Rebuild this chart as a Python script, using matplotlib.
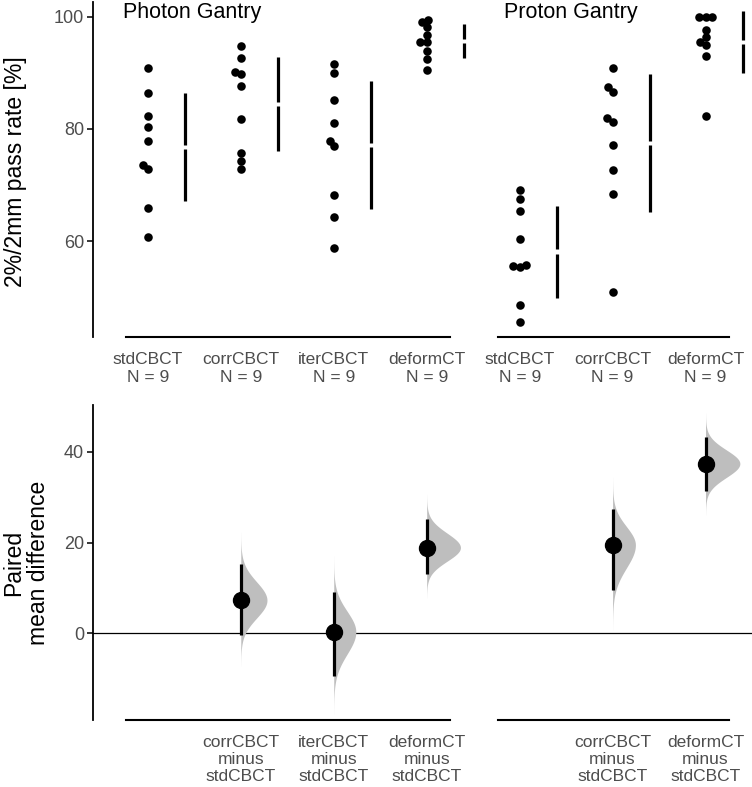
import numpy as np
import matplotlib
matplotlib.use("Agg")
import matplotlib.pyplot as plt

plt.rcParams["font.family"] = ["Liberation Sans", "DejaVu Sans"]

# ---- data ----
groups = ["Photon Gantry", "Proton Gantry"]
photon_labels = ["stdCBCT", "corrCBCT", "iterCBCT", "deformCT"]
proton_labels = ["stdCBCT", "corrCBCT", "deformCT"]

photon_std = [90.9, 86.3, 82.3, 80.3, 77.9, 73.5, 72.8, 65.9, 60.7]
photon_corr = [94.8, 92.6, 90.1, 89.8, 87.6, 81.8, 75.7, 74.3, 72.8]
photon_iter = [91.6, 89.9, 85.2, 81.1, 77.9, 77.0, 68.2, 64.2, 58.7]
photon_deform = [99.4, 99.0, 98.2, 96.7, 95.4, 95.4, 93.9, 92.5, 90.4]
proton_std = [69.1, 67.5, 65.3, 60.3, 55.7, 55.5, 55.3, 48.6, 45.6]
proton_corr = [90.9, 87.5, 86.6, 82.0, 81.3, 77.2, 72.7, 68.3, 50.9]
proton_deform = [100.0, 100.0, 100.0, 97.6, 96.3, 95.5, 94.9, 93.0, 82.2]

delta_labels = ["corrCBCT\nminus\nstdCBCT", "iterCBCT\nminus\nstdCBCT",
                "deformCT\nminus\nstdCBCT", "corrCBCT\nminus\nstdCBCT",
                "deformCT\nminus\nstdCBCT"]
delta_pos = [1, 2, 3, 5, 6]
delta_est = [7.3, 0.35, 18.9, 19.5, 37.4]
delta_lo = [-0.4, -9.3, 13.0, 9.5, 31.4]
delta_hi = [15.2, 9.2, 25.1, 27.4, 43.3]

samples = [photon_std, photon_corr, photon_iter, photon_deform,
           proton_std, proton_corr, proton_deform]
raw_labels = [f"{c}\nN = {len(s)}" for c, s in
              zip(photon_labels + proton_labels, samples)]
group_spans = [(0, 3), (4, 6)]

GREY_TXT = "#4D4D4D"
VIOLIN = "#BEBEBE"


def swarm(values, px_x, px_y, diam):
    vals = np.asarray(values, float)
    offs = np.zeros(len(vals))
    placed = []
    for i in np.argsort(vals):
        y = vals[i] * px_y
        cands = [0.0]
        for xj, yj in placed:
            dy = abs(y - yj)
            if dy < diam:
                dx = np.sqrt(diam ** 2 - dy ** 2)
                cands += [xj - dx, xj + dx]
        for c in sorted(cands, key=abs):
            if all((c - xj) ** 2 + (y - yj) ** 2 >= diam ** 2 - 1e-6
                   for xj, yj in placed):
                break
        placed.append((c, y))
        offs[i] = c / px_x
    return offs


fig = plt.figure(figsize=(7.52, 7.87), dpi=100)
W, H = 752, 787
ax1 = fig.add_axes([93 / W, (H - 337) / H, (W - 93) / W, 335 / H])
ax2 = fig.add_axes([93 / W, (H - 720) / H, (W - 93) / W, 315 / H])

xlim = (-0.59, 6.5)
for ax in (ax1, ax2):
    ax.set_xlim(*xlim)
    for s in ("top", "right", "bottom"):
        ax.spines[s].set_visible(False)
    ax.spines["left"].set_linewidth(1.3)
    ax.tick_params(axis="y", length=4.5, width=1.1, labelsize=13,
                   labelcolor=GREY_TXT, pad=2)
    ax.tick_params(axis="x", length=0, labelsize=12.5,
                   labelcolor=GREY_TXT, pad=11)

# ---- top: raw data swarm ----
ax1.set_ylim(42.9, 102.6)
ax1.set_yticks([60, 80, 100])
px_x = 93.0
px_y = 5.61
for i, s in enumerate(samples):
    off = swarm(s, px_x, px_y, 6.5)
    ax1.scatter(i + off, s, s=38, color="black", linewidths=0, zorder=3)
    m, sd = np.mean(s), np.std(s, ddof=1)
    gap = 0.4
    ax1.plot([i + 0.4] * 2, [m - sd, m - gap], color="black", lw=2.3,
             solid_capstyle="butt")
    ax1.plot([i + 0.4] * 2, [m + gap, m + sd], color="black", lw=2.3,
             solid_capstyle="butt")
ax1.set_xticks(range(len(samples)))
ax1.set_xticklabels(raw_labels, linespacing=1.2)
for a, b in group_spans:
    ax1.plot([a - 0.23, b + 0.25], [42.9, 42.9], color="black", lw=1.5,
             clip_on=False)
ax1.text(0.48, 99.7, groups[0], ha="center", va="baseline", fontsize=15.5)
ax1.text(4.55, 99.7, groups[1], ha="center", va="baseline", fontsize=15.5)

# ---- bottom: paired mean differences ----
ax2.set_ylim(-19.1, 50.3)
ax2.set_yticks([0, 20, 40])
ax2.axhline(0, color="black", lw=0.9, zorder=1)
k = 2.81
for x, d, lo, hi in zip(delta_pos, delta_est, delta_lo, delta_hi):
    s_lo = (d - lo) / 1.96
    s_hi = (hi - d) / 1.96
    yy = np.linspace(d - 3.7 * s_lo, d + 3.7 * s_hi, 300)
    sig = np.where(yy < d, s_lo, s_hi)
    dens = 2 / (np.sqrt(2 * np.pi) * (s_lo + s_hi)) * np.exp(
        -0.5 * ((yy - d) / sig) ** 2)
    ax2.fill_betweenx(yy, x, x + k * dens, color=VIOLIN, lw=0, zorder=2)
    ax2.plot([x, x], [lo, hi], color="black", lw=2.3, zorder=3,
             solid_capstyle="butt")
    ax2.plot(x, d, "o", color="black", ms=11.5, zorder=4)
ax2.set_xticks(delta_pos)
ax2.set_xticklabels(delta_labels, linespacing=1.15)
for a, b in group_spans:
    ax2.plot([a - 0.23, b + 0.25], [-19.1, -19.1], color="black", lw=1.5,
             clip_on=False)

fig.text(16 / W, (H - 172) / H, "2%/2mm pass rate [%]", rotation=90,
         ha="center", va="center", fontsize=16.5)
fig.text(26 / W, (H - 563) / H, "Paired\nmean difference", rotation=90,
         ha="center", va="center", fontsize=16.5, linespacing=1.15)

fig.savefig("out.png", dpi=100, facecolor="white")
